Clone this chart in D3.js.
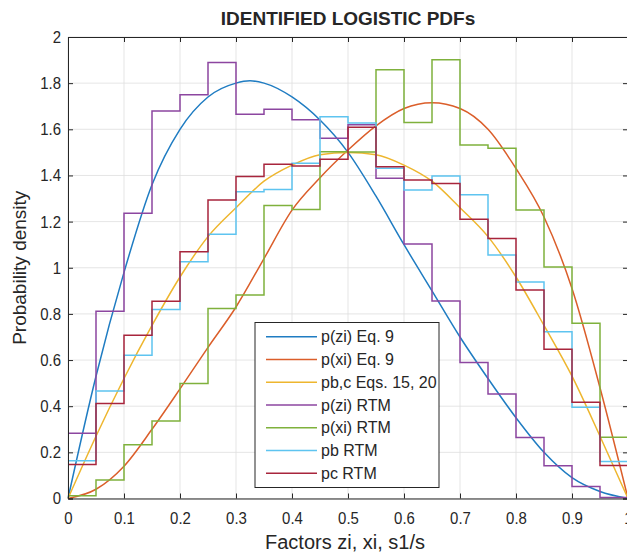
<!DOCTYPE html>
<html><head><meta charset="utf-8">
<script src="https://cdn.jsdelivr.net/npm/d3@7"></script>
<style>
body{margin:0;background:#fff}
svg{display:block}
text{font-family:"Liberation Sans",Arial,Helvetica,sans-serif;fill:#262626}
</style>
</head><body>
<svg id="chart" width="627" height="554"></svg>
<script>
// ---------- data ----------
const binEdges = [0,0.05,0.1,0.15,0.2,0.25,0.3,0.35,0.4,0.45,0.5,0.55,0.6,0.65,0.7,0.75,0.8,0.85,0.9,0.95,1];

const pziRTM = [0.283,0.812,1.236,1.679,1.75,1.889,1.665,1.687,1.641,1.561,1.62,1.388,1.103,0.856,0.589,0.453,0.264,0.142,0.052,0.004];
const pxiRTM = [0.012,0.08,0.233,0.336,0.498,0.823,0.882,1.27,1.252,1.503,1.502,1.858,1.629,1.901,1.532,1.518,1.25,1.003,0.759,0.265];
const pbRTM  = [0.164,0.466,0.621,0.819,1.026,1.145,1.329,1.339,1.453,1.654,1.627,1.431,1.337,1.398,1.316,1.055,0.938,0.723,0.395,0.16];
const pcRTM  = [0.147,0.412,0.707,0.855,1.069,1.294,1.395,1.449,1.441,1.47,1.609,1.438,1.38,1.365,1.21,1.127,0.904,0.647,0.417,0.143];

const pziEqX = [0,0.05,0.1,0.15,0.2,0.25,0.3,0.325,0.35,0.4,0.45,0.5,0.55,0.6,0.65,0.7,0.75,0.8,0.85,0.9,0.95,1];
const pziEqY = [0,0.53,0.98,1.36,1.6,1.74,1.8,1.81,1.8,1.74,1.64,1.5,1.31,1.1,0.9,0.7,0.52,0.35,0.2,0.09,0.03,0];

const pxiEqX = [0,0.05,0.1,0.15,0.2,0.25,0.3,0.35,0.4,0.45,0.5,0.55,0.6,0.65,0.7,0.75,0.8,0.85,0.9,0.95,1];
const pxiEqY = [0,0.04,0.14,0.3,0.475,0.655,0.83,1.04,1.25,1.39,1.51,1.615,1.69,1.715,1.69,1.6,1.43,1.22,0.91,0.48,0];

const pbcEqX = [0,0.05,0.1,0.15,0.2,0.25,0.3,0.35,0.4,0.45,0.5,0.55,0.6,0.65,0.7,0.75,0.8,0.85,0.9,0.95,1];
const pbcEqY = [0,0.27,0.52,0.75,0.96,1.135,1.26,1.375,1.445,1.49,1.5,1.49,1.445,1.375,1.26,1.135,0.96,0.75,0.53,0.27,0];

const xTicks = [0,0.1,0.2,0.3,0.4,0.5,0.6,0.7,0.8,0.9,1];
const xTickLabels = ["0","0.1","0.2","0.3","0.4","0.5","0.6","0.7","0.8","0.9","1"];
const yTicks = [0,0.2,0.4,0.6,0.8,1,1.2,1.4,1.6,1.8,2];
const yTickLabels = ["0","0.2","0.4","0.6","0.8","1","1.2","1.4","1.6","1.8","2"];

const seriesNames = ["p(zi) Eq. 9","p(xi) Eq. 9","pb,c Eqs. 15, 20","p(zi) RTM","p(xi) RTM","pb RTM","pc RTM"];
const seriesColors = ["#1f7cc2","#db5e2a","#eeb62e","#8c46a0","#7fb13c","#5ec4f0","#a8253c"];

const titleText = "IDENTIFIED LOGISTIC PDFs";
const xLabel = "Factors zi, xi, s1/s";
const yLabel = "Probability density";

// ---------- layout ----------
const L = 68, R = 628, T = 37, B = 498.5;
const svg = d3.select("#chart");
const x = d3.scaleLinear().domain([0,1]).range([L,R]);
const y = d3.scaleLinear().domain([0,2]).range([B,T]);

svg.append("rect").attr("x",0).attr("y",0).attr("width",627).attr("height",554).attr("fill","#fff");

// grid
const grid = svg.append("g").attr("stroke","#dedede").attr("stroke-width",0.8);
grid.selectAll("line.gx").data(xTicks).join("line")
  .attr("x1",d=>x(d)).attr("x2",d=>x(d)).attr("y1",T).attr("y2",B);
grid.selectAll("line.gy").data(yTicks).join("line")
  .attr("y1",d=>y(d)).attr("y2",d=>y(d)).attr("x1",L).attr("x2",R);

// plot lines
const curveLine = d3.line().x(d=>x(d[0])).y(d=>y(d[1])).curve(d3.curveMonotoneX);
const stepLine = d3.line().x(d=>x(d[0])).y(d=>y(d[1])).curve(d3.curveStepAfter);
const stepPts = v => binEdges.map((e,i)=>[e, i<v.length ? v[i] : v[v.length-1]]);

const plot = svg.append("g").attr("fill","none").attr("stroke-width",1.5);
const curves = [
  {pts: pziEqX.map((d,i)=>[d,pziEqY[i]]), gen: curveLine},
  {pts: pxiEqX.map((d,i)=>[d,pxiEqY[i]]), gen: curveLine},
  {pts: pbcEqX.map((d,i)=>[d,pbcEqY[i]]), gen: curveLine},
  {pts: stepPts(pziRTM), gen: stepLine},
  {pts: stepPts(pxiRTM), gen: stepLine},
  {pts: stepPts(pbRTM), gen: stepLine},
  {pts: stepPts(pcRTM), gen: stepLine}
];
curves.forEach((c,i)=>{
  plot.append("path").attr("d",c.gen(c.pts)).attr("stroke",seriesColors[i]);
});

// axes (MATLAB-style box with inward ticks)
const axisColor = "#262626";
const xAxis = svg.append("g").attr("transform",`translate(0,${B})`)
  .call(d3.axisBottom(x).tickValues(xTicks).tickFormat((d,i)=>xTickLabels[i]).tickSize(-5).tickPadding(13));
const xAxisTop = svg.append("g").attr("transform",`translate(0,${T})`)
  .call(d3.axisTop(x).tickValues(xTicks).tickFormat("").tickSize(-5));
const yAxis = svg.append("g").attr("transform",`translate(${L},0)`)
  .call(d3.axisLeft(y).tickValues(yTicks).tickFormat((d,i)=>yTickLabels[i]).tickSize(-5).tickPadding(8));
const yAxisR = svg.append("g").attr("transform",`translate(${R},0)`)
  .call(d3.axisRight(y).tickValues(yTicks).tickFormat("").tickSize(-5));
[xAxis,xAxisTop,yAxis,yAxisR].forEach(g=>{
  g.selectAll("path.domain").attr("stroke",axisColor).attr("stroke-width",1);
  g.selectAll(".tick line").attr("stroke",axisColor).attr("stroke-width",1);
  g.selectAll(".tick text").attr("fill",axisColor).style("font-size","17px")
    .style("font-family",'"Liberation Sans",Arial,sans-serif');
});
xAxis.selectAll(".tick text").attr("transform","scale(0.88,1)");
yAxis.selectAll(".tick text").attr("transform","scale(0.88,1)");

// title & labels
svg.append("text").attr("x",(L+R)/2).attr("y",25).attr("text-anchor","middle")
  .style("font-size","19px").style("font-weight","bold").text(titleText);
svg.append("text").attr("x",(L+R)/2 - 3).attr("y",549).attr("text-anchor","middle")
  .style("font-size","20px").text(xLabel);
svg.append("text").attr("transform",`translate(26,${(T+B)/2}) rotate(-90)`).attr("text-anchor","middle")
  .style("font-size","19px").text(yLabel);

// legend
const lg = svg.append("g");
lg.append("rect").attr("x",255).attr("y",322.5).attr("width",184).attr("height",165)
  .attr("fill","#fff").attr("stroke",axisColor).attr("stroke-width",1);
seriesNames.forEach((n,i)=>{
  const yy = 336.7 + i*22.75;
  lg.append("line").attr("x1",266).attr("x2",317).attr("y1",yy).attr("y2",yy)
    .attr("stroke",seriesColors[i]).attr("stroke-width",1.5);
  lg.append("text").attr("x",321).attr("y",yy).attr("dy","0.36em")
    .style("font-size","16px").text(n);
});
</script>
</body></html>
